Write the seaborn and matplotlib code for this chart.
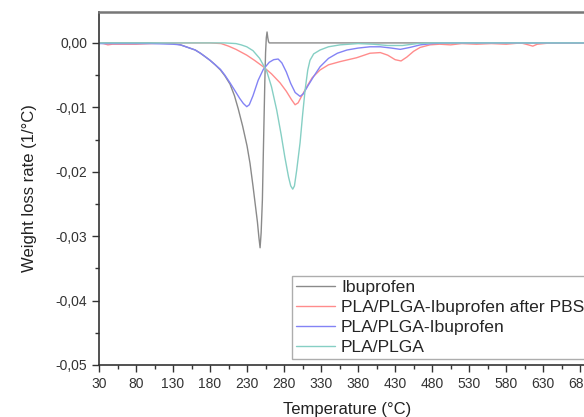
import numpy as np
import pandas as pd
import matplotlib
matplotlib.use("Agg")
import matplotlib.pyplot as plt
from matplotlib.ticker import MultipleLocator, FuncFormatter, FixedLocator
import seaborn as sns

# Datos (Temperatura en °C, tasa en 1/°C)
ibu_t = [30, 60, 100, 130, 140, 150, 160, 167, 173, 180, 187, 194, 200, 207, 213, 218, 224, 230,
         234, 238, 241, 244, 246, 247.6, 249, 250.7, 252, 253, 254, 255, 256, 257, 258, 259, 260,
         300, 400, 500, 600, 700]
ibu_w = [0.0, 0.0, 0.0, -0.0001, -0.0003, -0.0007, -0.0011, -0.0016, -0.0021, -0.0027, -0.0034,
         -0.0042, -0.0051, -0.0064, -0.0082, -0.0102, -0.0129, -0.016, -0.0187, -0.0222, -0.025,
         -0.0278, -0.0302, -0.0318, -0.0295, -0.0244, -0.017, -0.0115, -0.006, -0.0015, 0.0008,
         0.0017, 0.0008, 0.0002, 0.0, 0.0, 0.0, 0.0, 0.0, 0.0]

pbs_t = [30, 36, 42, 48, 60, 80, 100, 130, 160, 180, 195, 205, 215, 229.6, 240, 251.9, 263, 274.6,
         283, 290, 294.9, 299, 304, 310.7, 318, 328.6, 340, 355.7, 378, 396, 410, 420, 430, 438,
         445.8, 455, 463.8, 477, 490, 505, 520, 540, 560, 580, 600, 610, 616, 622, 640, 660, 680, 700]
pbs_w = [0.0, -0.0001, -0.0003, -0.0002, -0.0002, -0.0002, -0.0001, 0.0, 0.0, 0.0, -0.0001,
         -0.0005, -0.001, -0.0019, -0.0027, -0.0037, -0.0048, -0.0062, -0.0075, -0.0088, -0.0096,
         -0.0093, -0.0082, -0.0068, -0.0054, -0.0042, -0.0034, -0.0029, -0.0023, -0.0016, -0.0015,
         -0.0019, -0.0026, -0.0028, -0.0022, -0.0013, -0.0007, -0.0003, -0.0002, -0.0003, -0.0001,
         -0.0002, -0.0001, -0.0002, 0.0, -0.0003, -0.0005, -0.0002, 0.0, 0.0, 0.0, 0.0]

ibup_t = [30, 60, 100, 130, 140, 150, 160, 167, 173, 180, 187, 194, 200, 207, 213, 220, 225,
          229.6, 233, 238, 245, 252, 260, 266, 272, 277, 283, 289, 295, 301.6, 306, 312, 320,
          328.6, 340, 352, 365, 380, 396, 410, 425, 437, 450, 464, 480, 500, 600, 700]
ibup_w = [-0.0001, -0.0001, -0.0001, -0.0002, -0.0003, -0.0007, -0.0011, -0.0016, -0.0021,
          -0.0027, -0.0034, -0.0041, -0.005, -0.0062, -0.0073, -0.0086, -0.0094, -0.0099, -0.0096,
          -0.0082, -0.0058, -0.0041, -0.003, -0.0026, -0.0025, -0.0031, -0.0045, -0.0063, -0.0077,
          -0.0083, -0.0079, -0.0067, -0.0052, -0.0037, -0.0024, -0.0016, -0.0011, -0.0008, -0.0006,
          -0.0006, -0.0008, -0.001, -0.0007, -0.0003, -0.0001, 0.0, 0.0, 0.0]

pla_t = [30, 100, 150, 200, 215, 222, 229.6, 238, 247, 256.6, 263, 270, 276, 281, 286, 289,
         291.7, 294, 297, 301.6, 305, 308.4, 312, 315, 320, 328.6, 340, 355.7, 380, 400, 420,
         440, 460, 480, 600, 700]
pla_w = [0.0, 0.0, 0.0, 0.0, -0.0001, -0.0003, -0.0006, -0.0012, -0.0024, -0.0044, -0.0068,
         -0.0104, -0.0142, -0.0177, -0.0208, -0.0222, -0.0227, -0.0222, -0.0198, -0.0155, -0.0112,
         -0.0073, -0.0042, -0.0027, -0.0017, -0.0011, -0.0006, -0.0003, -0.0001, -0.0002, -0.0004,
         -0.0004, -0.0001, 0.0, 0.0, 0.0]

series = ["Ibuprofen", "PLA/PLGA-Ibuprofen after PBS", "PLA/PLGA-Ibuprofen", "PLA/PLGA"]
colores = ["#8a8a8a", "#ff8c8c", "#8383f5", "#86cfc4"]

df = pd.concat([
    pd.DataFrame({"T": ibu_t, "W": ibu_w, "serie": series[0]}),
    pd.DataFrame({"T": pbs_t, "W": pbs_w, "serie": series[1]}),
    pd.DataFrame({"T": ibup_t, "W": ibup_w, "serie": series[2]}),
    pd.DataFrame({"T": pla_t, "W": pla_w, "serie": series[3]}),
])

sns.set_style("ticks")
plt.rcParams["font.family"] = ["Liberation Sans", "DejaVu Sans"]

fig = plt.figure(figsize=(5.84, 4.17), dpi=100)
ax = fig.add_axes([99 / 584, 1 - 365 / 417, 496 / 584, 353 / 417])

sns.lineplot(data=df, x="T", y="W", hue="serie", hue_order=series,
             palette=dict(zip(series, colores)), estimator=None, sort=True,
             linewidth=1.0, ax=ax)

ax.set_xlim(30, 700)
ax.set_ylim(-0.05, 0.0048)
ax.xaxis.set_major_locator(FixedLocator(np.arange(30, 700, 50)))
ax.xaxis.set_minor_locator(FixedLocator(np.arange(55, 700, 50)))
ax.yaxis.set_major_locator(MultipleLocator(0.01))
ax.yaxis.set_minor_locator(MultipleLocator(0.005))
ax.yaxis.set_major_formatter(FuncFormatter(
    lambda v, p: ("%.2f" % (0.0 if abs(v) < 1e-9 else v)).replace(".", ",")))
ax.tick_params(which="major", direction="out", length=5, width=1, labelsize=10,
               colors="#333333")
ax.tick_params(which="minor", direction="out", length=3, width=1, colors="#333333")

for s in ["left", "bottom"]:
    ax.spines[s].set_color("#333333")
    ax.spines[s].set_linewidth(1.2)
ax.spines["top"].set_color("#777777")
ax.spines["top"].set_linewidth(1.8)
ax.spines["right"].set_visible(False)

ax.set_xlabel("Temperature (°C)", fontsize=12, color="#222222", labelpad=8)
ax.set_ylabel("Weight loss rate (1/°C)", fontsize=12, color="#222222", labelpad=13)

leg = ax.legend(loc="lower left", bbox_to_anchor=((292 - 99) / 496, 6 / 353), fontsize=12.6,
                frameon=True, fancybox=False, edgecolor="#999999", handlelength=2.2,
                labelspacing=0.26, borderaxespad=0.0, borderpad=0.25, handletextpad=0.35)
leg.get_frame().set_linewidth(1.0)
for line in leg.get_lines():
    line.set_linewidth(1.0)

fig.savefig("out.png", dpi=100)
